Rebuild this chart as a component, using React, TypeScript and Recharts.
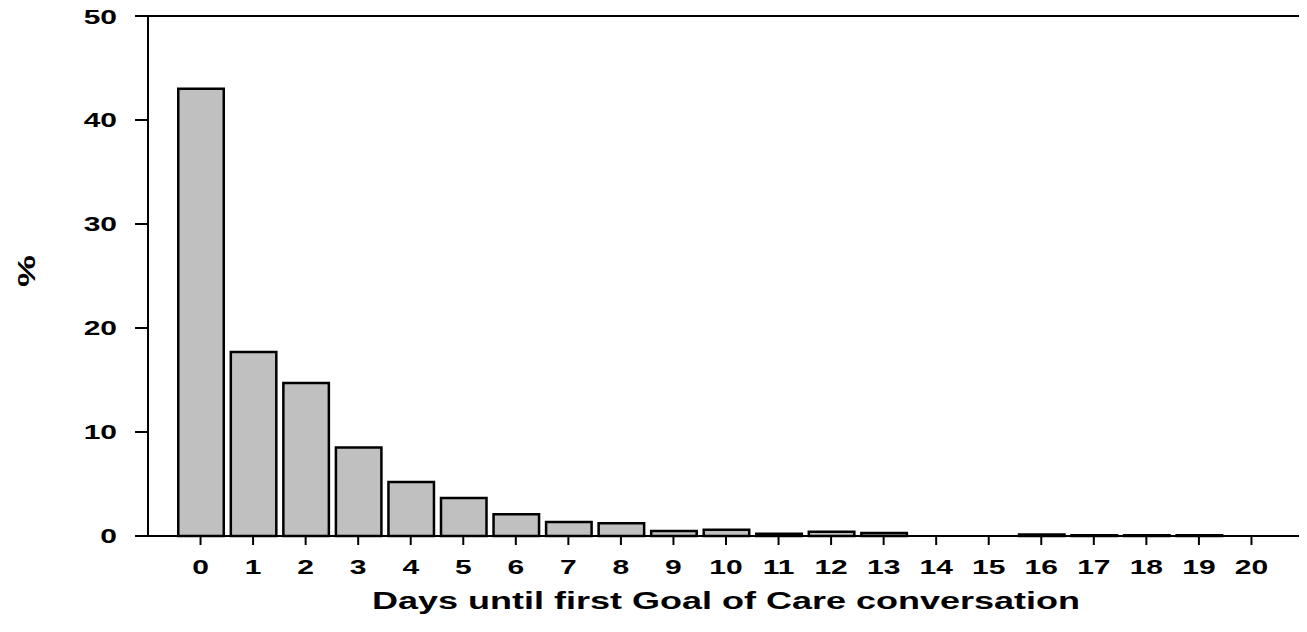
import React from "react"
import { Bar, BarChart, ReferenceLine, XAxis, YAxis } from "recharts"

const days = [0, 1, 2, 3, 4, 5, 6, 7, 8, 9, 10, 11, 12, 13, 14, 15, 16, 17, 18, 19, 20]
const percent = [43, 17.7, 14.7, 8.5, 5.2, 3.65, 2.1, 1.35, 1.22, 0.48, 0.6, 0.22, 0.41, 0.29, 0, 0, 0.15, 0.08, 0.08, 0.08, 0]
const yTicks = [0, 10, 20, 30, 40, 50]

const data = days.map((d, i) => ({ day: d, pct: percent[i] }))

const FONT = "'Liberation Sans', Arial, sans-serif"
const STRETCH = 1.5

const XTick = (props: any) => {
  const { x, y, payload } = props
  return (
    <text
      transform={`translate(${x},${y}) scale(${STRETCH},1)`}
      textAnchor="middle"
      dy="0.71em"
      fontFamily={FONT}
      fontWeight="bold"
      fontSize={20}
      fill="#000"
    >
      {payload.value}
    </text>
  )
}

const YTick = (props: any) => {
  const { x, y, payload } = props
  return (
    <text
      transform={`translate(${x},${y}) scale(${STRETCH},1)`}
      textAnchor="end"
      dy="0.355em"
      fontFamily={FONT}
      fontWeight="bold"
      fontSize={20}
      fill="#000"
    >
      {payload.value}
    </text>
  )
}

export default function App() {
  return (
    <BarChart width={1299} height={624} data={data} margin={{ top: 8, right: 3, left: 0, bottom: 0 }}>
      <XAxis
        dataKey="day"
        type="number"
        domain={[-1, 21]}
        ticks={days}
        interval={0}
        height={96}
        tickSize={9}
        tickMargin={15}
        stroke="#000"
        strokeWidth={2}
        tick={<XTick />}
        label={{
          content: (p: any) => {
            const vb = p.viewBox
            const cx = vb.x + vb.width / 2
            const cy = vb.y + 73
            return (
              <text
                transform={`translate(${cx},${cy}) scale(${STRETCH},1)`}
                textAnchor="middle"
                fontFamily={FONT}
                fontWeight="bold"
                fontSize={24}
                fill="#000"
              >
                Days until first Goal of Care conversation
              </text>
            )
          },
        }}
      />
      <YAxis
        domain={[0, 50]}
        ticks={yTicks}
        width={140}
        tickSize={13}
        tickMargin={18}
        stroke="#000"
        strokeWidth={2}
        tick={<YTick />}
        label={{
          content: (p: any) => {
            const vb = p.viewBox
            const cy = vb.y + vb.height / 2 - 5
            return (
              <text
                transform={`translate(18,${cy}) rotate(-90) scale(${STRETCH},1)`}
                textAnchor="middle"
                dy="0.36em"
                fontFamily={FONT}
                fontWeight="bold"
                fontSize={24}
                fill="#000"
              >
                %
              </text>
            )
          },
        }}
      />
      <ReferenceLine y={50} stroke="#000" strokeWidth={2} />
      <ReferenceLine x={21} stroke="#000" strokeWidth={2} />
      <Bar dataKey="pct" barSize={45.5} fill="#c0c0c0" stroke="#000" strokeWidth={2.5} isAnimationActive={false} />
    </BarChart>
  )
}
